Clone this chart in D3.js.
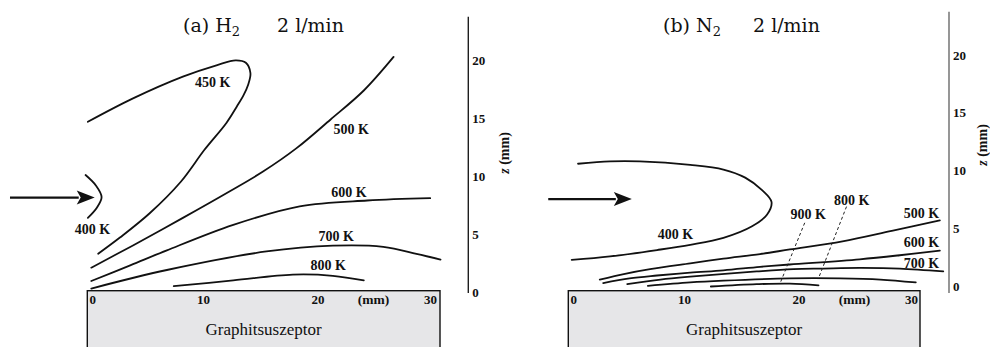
<!DOCTYPE html>
<html>
<head>
<meta charset="utf-8">
<script src="https://cdn.jsdelivr.net/npm/d3@7"></script>
<style>
  body { margin: 0; background: #fff; }
  svg { display: block; }
</style>
</head>
<body>
<svg id="chart" width="990" height="347"></svg>
<script>
// ---- Isotherms over the susceptor: [radial position x (mm), height z (mm)] ----
// (a) hydrogen, 2 l/min
const h2Iso400 = [[-0.3,10.1],[0.6,9.2],[1.1,8.2],[0.7,7.3],[-0.1,6.4]];
const h2Iso450 = [[-0.1,14.7],[3.8,16.7],[8.2,18.6],[11.2,19.6],[12.8,20.0],[13.7,19.8],[14.1,18.9],
                  [13.9,17.9],[13.5,17.0],[12.9,16.0],[12.0,14.6],[10.1,12.3],[8.0,9.5],[5.3,6.8],[2.7,4.7],[0.8,3.3]];
const h2Iso500 = [[0.2,2.1],[3.8,4.0],[8.2,6.4],[12.3,8.7],[15.2,10.4],[18.1,12.4],[21.1,14.9],[24.0,17.4],[26.6,20.3]];
const h2Iso600 = [[0.2,0.95],[3.6,2.3],[6.8,3.6],[12.6,5.8],[18.4,7.4],[24.3,7.9],[29.8,8.1]];
const h2Iso700 = [[0.2,0.3],[6.8,1.9],[15.5,3.5],[21.3,4.0],[25.7,3.9],[28.6,3.3],[30.7,2.8]];
const h2Iso800 = [[7.4,0.5],[12.6,1.0],[17.8,1.5],[21.3,1.4],[24.0,1.0]];

// (b) nitrogen, 2 l/min
const n2Iso400 = [[0.7,10.6],[3.5,10.8],[6.1,10.8],[10.5,10.5],[13.4,10.1],[15.3,9.4],[16.8,8.3],[17.6,7.3],
                  [17.2,6.2],[15.9,5.2],[13.4,4.2],[10.5,3.6],[7.6,3.15],[3.5,2.6],[0.15,2.3]];
const n2Iso500 = [[2.6,0.6],[4.8,1.1],[7.0,1.5],[10.5,2.0],[13.4,2.4],[16.6,2.8],[19.2,3.2],[23.8,3.9],[28.1,4.8],[32.3,5.7]];
const n2Iso600 = [[2.9,0.3],[5.2,0.7],[7.6,0.95],[10.5,1.2],[13.4,1.4],[16.6,1.7],[19.2,1.9],[25.3,2.35],[28.8,2.7],[32.3,3.1]];
const n2Iso700 = [[5.0,0.2],[7.9,0.6],[10.5,0.85],[16.3,1.3],[19.5,1.5],[22.1,1.55],[25.3,1.6],[28.8,1.55],[32.6,1.3]];
const n2Iso800 = [[6.8,0.05],[10.5,0.35],[13.4,0.5],[19.2,0.7],[23.6,0.7],[27.1,0.6],[30.2,0.35]];
const n2Iso900 = [[12.3,0.0],[16.3,0.2],[19.2,0.25],[21.7,0.1]];

// Dashed leader lines for the thin near-surface isotherms in (b)
const n2Lead900 = [[20.5,5.5],[18.4,0.4]];
const n2Lead800 = [[24.15,6.9],[21.7,0.7]];

// Isotherm labels: text and anchor point (mm)
const h2Labels = [
  { text: "450 K", x: 10.8, z: 18.1 },
  { text: "500 K", x: 22.9, z: 14.1 },
  { text: "600 K", x: 22.7, z: 8.65 },
  { text: "700 K", x: 21.6, z: 4.85 },
  { text: "800 K", x: 20.9, z: 2.35 },
  { text: "400 K", x: 0.3,  z: 5.4 }
];
const n2Labels = [
  { text: "400 K", x: 9.2,  z: 4.55 },
  { text: "900 K", x: 20.8, z: 6.25 },
  { text: "800 K", x: 24.6, z: 7.5 },
  { text: "500 K", x: 30.7, z: 6.35 },
  { text: "600 K", x: 30.7, z: 3.8 },
  { text: "700 K", x: 30.7, z: 2.05 }
];

// Gas inflow arrows (start, tip) in mm
const h2Arrow = [[-6.9, 8.15], [0.5, 8.15]];
const n2Arrow = [[-1.9, 7.55], [5.4, 7.55]];

// Tick labels
const xTicks = [0, 10, 20, 30];
const zTicks = [0, 5, 10, 15, 20];
const xUnitPos = 24.85;

const panels = [
  {
    gas: "(a) H", sub: "2", flow: "2 l/min",
    isotherms: [h2Iso400, h2Iso450, h2Iso500, h2Iso600, h2Iso700, h2Iso800],
    leaders: [], labels: h2Labels, arrow: h2Arrow,
    xRange: [89, 432.5], yRange: [292, 60.4],
    box: [87.3, 440], axisX: 468.3, axisTop: 16.7, axisBottom: 293, axisColor: "#1e1e1e",
    zLabel: [504, 153], titleX: 183, flowX: 277
  },
  {
    gas: "(b) N", sub: "2", flow: "2 l/min",
    isotherms: [n2Iso400, n2Iso500, n2Iso600, n2Iso700, n2Iso800, n2Iso900],
    leaders: [n2Lead900, n2Lead800], labels: n2Labels, arrow: n2Arrow,
    xRange: [570, 913.5], yRange: [286.5, 54.9],
    box: [568.3, 920], axisX: 949, axisTop: 11.7, axisBottom: 293, axisColor: "#6a6a6a",
    zLabel: [982, 145], titleX: 663, flowX: 753
  }
];

const svg = d3.select("#chart");
const boxTop = 290.7;
const labelFont = "'Liberation Serif', 'Times New Roman', serif";

panels.forEach(p => {
  const x = d3.scaleLinear().domain([0, 30]).range(p.xRange);
  const y = d3.scaleLinear().domain([0, 20]).range(p.yRange);
  const g = svg.append("g");

  // Title
  const title = g.append("text")
    .attr("x", p.titleX).attr("y", 32)
    .attr("font-family", "'DejaVu Serif', serif")
    .attr("font-size", 19).attr("fill", "#111");
  title.append("tspan").text(p.gas);
  title.append("tspan").attr("dy", 4).attr("font-size", 13).text(p.sub);
  g.append("text")
    .attr("x", p.flowX).attr("y", 32)
    .attr("font-family", "'DejaVu Serif', serif")
    .attr("font-size", 19).attr("fill", "#111")
    .text(p.flow);

  // Susceptor block
  g.append("rect")
    .attr("x", p.box[0]).attr("y", boxTop)
    .attr("width", p.box[1] - p.box[0]).attr("height", 70)
    .attr("fill", "#e6e6e8").attr("stroke", "#111").attr("stroke-width", 1.4);

  g.selectAll(".xtick").data(xTicks).join("text")
    .attr("class", "xtick")
    .attr("x", (d, i) => x(d) + (i === 0 ? 0.5 : i === xTicks.length - 1 ? 4.5 : 0))
    .attr("y", 304)
    .attr("text-anchor", (d, i) => i === 0 ? "start" : i === xTicks.length - 1 ? "end" : "middle")
    .attr("font-family", labelFont).attr("font-weight", "bold").attr("font-size", 13)
    .attr("fill", "#111")
    .text(d => d);
  g.append("text")
    .attr("x", x(xUnitPos)).attr("y", 304).attr("text-anchor", "middle")
    .attr("font-family", labelFont).attr("font-weight", "bold").attr("font-size", 13.5)
    .attr("fill", "#111").text("(mm)");
  g.append("text")
    .attr("x", (p.box[0] + p.box[1]) / 2).attr("y", 334.5).attr("text-anchor", "middle")
    .attr("font-family", labelFont).attr("font-size", 17).attr("fill", "#111")
    .text("Graphitsuszeptor");

  // Height axis
  g.append("line")
    .attr("x1", p.axisX).attr("x2", p.axisX)
    .attr("y1", p.axisTop).attr("y2", p.axisBottom)
    .attr("stroke", p.axisColor).attr("stroke-width", 1.4);
  const ax = g.append("g")
    .attr("transform", `translate(${p.axisX},0)`)
    .call(d3.axisRight(y).tickValues(zTicks).tickSize(0).tickPadding(4));
  ax.select(".domain").remove();
  ax.selectAll("text")
    .attr("font-family", labelFont).attr("font-weight", "bold").attr("font-size", 13)
    .attr("fill", "#111");

  const zl = g.append("text")
    .attr("transform", `translate(${p.zLabel[0]},${p.zLabel[1]}) rotate(-90)`)
    .attr("text-anchor", "middle").attr("dy", "0.35em")
    .attr("font-family", labelFont).attr("font-weight", "bold").attr("font-size", 14)
    .attr("fill", "#111");
  zl.append("tspan").attr("font-style", "italic").text("z");
  zl.append("tspan").text(" (mm)");

  // Isotherms
  const iso = d3.line()
    .x(d => x(d[0])).y(d => y(d[1]))
    .curve(d3.curveCatmullRom.alpha(0.5));
  g.selectAll(".iso").data(p.isotherms).join("path")
    .attr("class", "iso")
    .attr("d", iso)
    .attr("fill", "none").attr("stroke", "#111")
    .attr("stroke-width", 1.8).attr("stroke-linecap", "round");

  g.selectAll(".leader").data(p.leaders).join("path")
    .attr("class", "leader")
    .attr("d", d3.line().x(d => x(d[0])).y(d => y(d[1])))
    .attr("fill", "none").attr("stroke", "#222")
    .attr("stroke-width", 1).attr("stroke-dasharray", "3,2.5");

  g.selectAll(".isolabel").data(p.labels).join("text")
    .attr("class", "isolabel")
    .attr("x", d => x(d.x)).attr("y", d => y(d.z))
    .attr("dy", "0.35em").attr("text-anchor", "middle")
    .attr("font-family", labelFont).attr("font-weight", "bold").attr("font-size", 14)
    .attr("fill", "#111")
    .text(d => d.text);

  // Inflow arrow
  const [a0, a1] = p.arrow;
  const ax0 = x(a0[0]), ax1 = x(a1[0]), ay = y(a0[1]);
  const head = 18, half = 7;
  g.append("line")
    .attr("x1", ax0).attr("x2", ax1 - head + 2)
    .attr("y1", ay).attr("y2", ay)
    .attr("stroke", "#111").attr("stroke-width", 2.2);
  g.append("path")
    .attr("d", `M${ax1},${ay} L${ax1 - head},${ay - half} L${ax1 - head + 4},${ay} L${ax1 - head},${ay + half} Z`)
    .attr("fill", "#111");
});
</script>
</body>
</html>
